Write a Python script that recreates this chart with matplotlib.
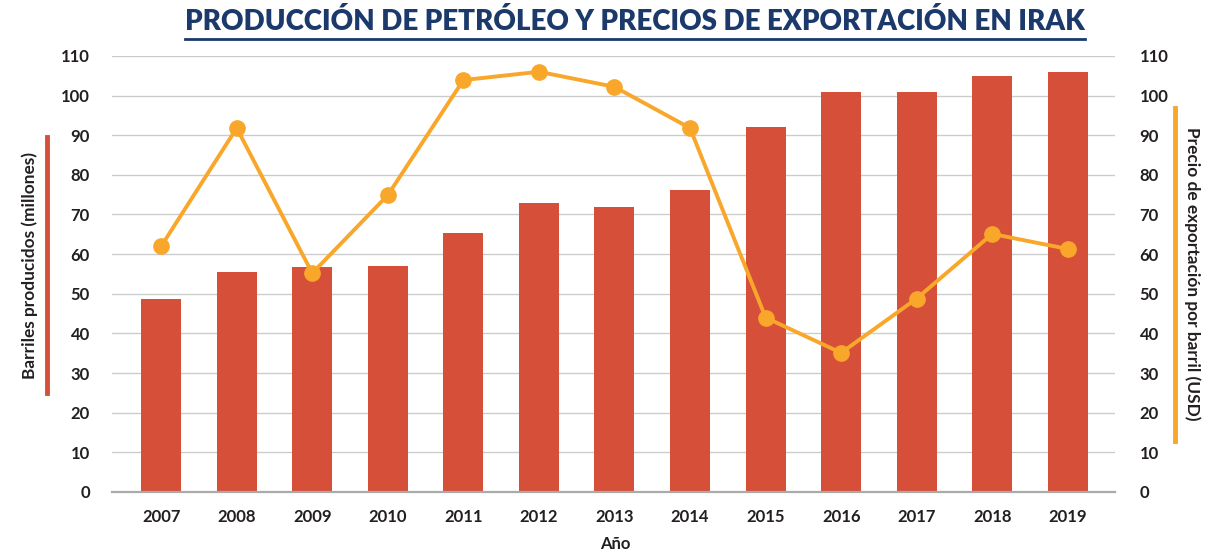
import matplotlib
matplotlib.use("Agg")
import matplotlib.pyplot as plt
from matplotlib.lines import Line2D

# data
years = ["2007", "2008", "2009", "2010", "2011", "2012", "2013",
         "2014", "2015", "2016", "2017", "2018", "2019"]
barrels = [48.8, 55.4, 56.8, 56.9, 65.3, 73.0, 72.0, 76.2, 92.0, 101.0, 101.0, 105.0, 106.0]
price = [62.0, 91.8, 55.2, 74.9, 103.9, 106.0, 102.2, 91.8, 44.0, 35.1, 48.8, 65.1, 61.3]

RED = "#D64F38"
ORANGE = "#F9A72B"
NAVY = "#1B3A6B"
TXT = "#231F20"

plt.rcParams["font.family"] = ["Lato", "DejaVu Sans"]

fig = plt.figure(figsize=(12.05, 5.52), dpi=100)
ax = fig.add_axes([0.093, 0.1087, 0.832, 0.79])

x = list(range(len(years)))
ax.bar(x, barrels, width=0.53, color=RED, zorder=2)
ax.set_ylim(0, 110)
ax.set_xlim(-0.65, 12.62)
ax.set_yticks(range(0, 111, 10))
ax.set_xticks(x)
ax.set_xticklabels(years)
ax.grid(axis="y", color="#CCCCCC", linewidth=1.0, zorder=0)
ax.set_axisbelow(True)
for s in ["top", "right", "left"]:
    ax.spines[s].set_visible(False)
ax.spines["bottom"].set_color("#AAAAAA")
ax.spines["bottom"].set_linewidth(1.6)
ax.tick_params(axis="both", length=0, labelsize=12, labelcolor=TXT)
ax.tick_params(axis="x", pad=12)
ax.tick_params(axis="y", pad=16)
for lab in ax.get_xticklabels() + ax.get_yticklabels():
    lab.set_fontweight("bold")

ax2 = ax.twinx()
ax2.set_ylim(0, 110)
ax2.set_yticks(range(0, 111, 10))
for s in ax2.spines.values():
    s.set_visible(False)
ax2.tick_params(axis="y", length=0, labelsize=12, labelcolor=TXT, pad=18)
for lab in ax2.get_yticklabels():
    lab.set_fontweight("bold")
ax2.plot(x, price, color=ORANGE, linewidth=2.8, marker="o", markersize=11, zorder=3)

# axis titles with coloured bars
fig.text(30 / 1205, 1 - 266 / 552, "Barriles producidos (millones)", rotation=90,
         ha="center", va="center", fontsize=12.4, fontweight="bold", color=TXT)
fig.add_artist(Line2D([47 / 1205, 47 / 1205], [1 - 137 / 552, 1 - 393 / 552],
                      color=RED, linewidth=3.5, transform=fig.transFigure))
fig.text(1192 / 1205, 1 - 274 / 552, "Precio de exportación por barril (USD)", rotation=-90,
         ha="center", va="center", fontsize=12.4, fontweight="bold", color=TXT)
fig.add_artist(Line2D([1175 / 1205, 1175 / 1205], [1 - 108 / 552, 1 - 441 / 552],
                      color=ORANGE, linewidth=3.5, transform=fig.transFigure))
fig.text(615 / 1205, 1 - 544 / 552, "Año", ha="center", va="center",
         fontsize=12, fontweight="bold", color=TXT)

# title with underline
title = fig.text(635 / 1205, 1 - 22 / 552, "PRODUCCIÓN DE PETRÓLEO Y PRECIOS DE EXPORTACIÓN EN IRAK",
                 ha="center", va="center", fontsize=20, fontweight="heavy", color=NAVY)
fig.canvas.draw()
bb = title.get_window_extent().transformed(fig.transFigure.inverted())
fig.add_artist(Line2D([bb.x0, bb.x1], [1 - 39 / 552, 1 - 39 / 552],
                      color=NAVY, linewidth=2.0, transform=fig.transFigure))

fig.savefig("out.png", dpi=100)
